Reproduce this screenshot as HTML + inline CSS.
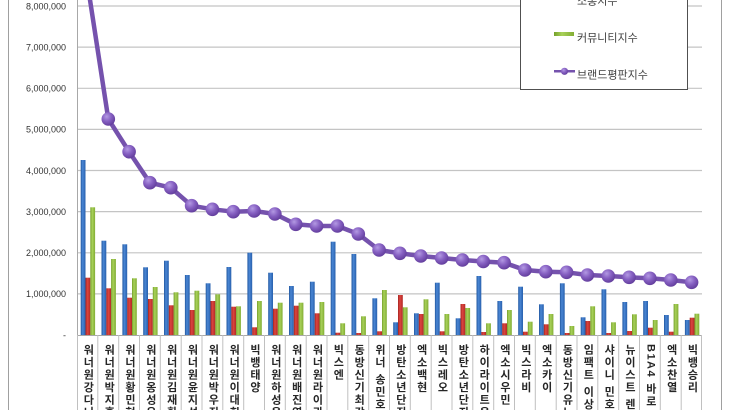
<!DOCTYPE html>
<html><head><meta charset="utf-8">
<style>
html,body{margin:0;padding:0;background:#fff;width:730px;height:410px;overflow:hidden;}
#c{position:relative;width:730px;height:410px;overflow:hidden;background:#fff;font-family:"Liberation Sans","Noto Sans CJK KR",sans-serif;}
svg{position:absolute;left:0;top:0;}
.lb{position:absolute;top:344px;width:20.83px;height:66px;overflow:hidden;line-height:20.83px;writing-mode:vertical-rl;text-orientation:mixed;font-size:11px;letter-spacing:1.5px;font-weight:bold;color:#262626;font-family:"Liberation Sans","Noto Sans CJK KR",sans-serif;white-space:nowrap;}
</style></head><body>
<div id="c">
<svg width="730" height="410" viewBox="0 0 730 410" xmlns="http://www.w3.org/2000/svg">
<defs>
<linearGradient id="gb" x1="0" x2="1" y1="0" y2="0"><stop offset="0" stop-color="#21579f"/><stop offset="0.4" stop-color="#4a86d4"/><stop offset="1" stop-color="#2760ad"/></linearGradient>
<linearGradient id="gr" x1="0" x2="1" y1="0" y2="0"><stop offset="0" stop-color="#a5231f"/><stop offset="0.4" stop-color="#dc4540"/><stop offset="1" stop-color="#b22a25"/></linearGradient>
<linearGradient id="gg" x1="0" x2="1" y1="0" y2="0"><stop offset="0" stop-color="#74a02a"/><stop offset="0.4" stop-color="#a8d159"/><stop offset="1" stop-color="#82ad34"/></linearGradient>
<radialGradient id="gm" cx="0.38" cy="0.32" r="0.7"><stop offset="0" stop-color="#b399e3"/><stop offset="0.5" stop-color="#8660c2"/><stop offset="1" stop-color="#623d9c"/></radialGradient>
</defs>
<line x1="8.5" y1="0" x2="8.5" y2="410" stroke="#a0a0a0" stroke-width="1"/>
<line x1="721.5" y1="0" x2="721.5" y2="410" stroke="#a0a0a0" stroke-width="1"/>
<g stroke="#c4c4c4" stroke-width="1.2">
<line x1="77" y1="6" x2="702" y2="6"/>
<line x1="77" y1="47.1" x2="702" y2="47.1"/>
<line x1="77" y1="88.3" x2="702" y2="88.3"/>
<line x1="77" y1="129.4" x2="702" y2="129.4"/>
<line x1="77" y1="170.5" x2="702" y2="170.5"/>
<line x1="77" y1="211.6" x2="702" y2="211.6"/>
<line x1="77" y1="252.8" x2="702" y2="252.8"/>
<line x1="77" y1="293.9" x2="702" y2="293.9"/>
</g>
<line x1="77.5" y1="0" x2="77.5" y2="335" stroke="#a8a8a8" stroke-width="1"/>
<line x1="77" y1="335.5" x2="702" y2="335.5" stroke="#a8a8a8" stroke-width="1"/>
<g stroke="#c0c0c0" stroke-width="1">
<line x1="77.5" y1="335" x2="77.5" y2="410"/>
<line x1="97.8" y1="335" x2="97.8" y2="410"/>
<line x1="118.7" y1="335" x2="118.7" y2="410"/>
<line x1="139.5" y1="335" x2="139.5" y2="410"/>
<line x1="160.3" y1="335" x2="160.3" y2="410"/>
<line x1="181.2" y1="335" x2="181.2" y2="410"/>
<line x1="202" y1="335" x2="202" y2="410"/>
<line x1="222.8" y1="335" x2="222.8" y2="410"/>
<line x1="243.7" y1="335" x2="243.7" y2="410"/>
<line x1="264.5" y1="335" x2="264.5" y2="410"/>
<line x1="285.3" y1="335" x2="285.3" y2="410"/>
<line x1="306.2" y1="335" x2="306.2" y2="410"/>
<line x1="327" y1="335" x2="327" y2="410"/>
<line x1="347.8" y1="335" x2="347.8" y2="410"/>
<line x1="368.7" y1="335" x2="368.7" y2="410"/>
<line x1="389.5" y1="335" x2="389.5" y2="410"/>
<line x1="410.3" y1="335" x2="410.3" y2="410"/>
<line x1="431.2" y1="335" x2="431.2" y2="410"/>
<line x1="452" y1="335" x2="452" y2="410"/>
<line x1="472.8" y1="335" x2="472.8" y2="410"/>
<line x1="493.7" y1="335" x2="493.7" y2="410"/>
<line x1="514.5" y1="335" x2="514.5" y2="410"/>
<line x1="535.3" y1="335" x2="535.3" y2="410"/>
<line x1="556.2" y1="335" x2="556.2" y2="410"/>
<line x1="577" y1="335" x2="577" y2="410"/>
<line x1="597.8" y1="335" x2="597.8" y2="410"/>
<line x1="618.7" y1="335" x2="618.7" y2="410"/>
<line x1="639.5" y1="335" x2="639.5" y2="410"/>
<line x1="660.3" y1="335" x2="660.3" y2="410"/>
<line x1="681.2" y1="335" x2="681.2" y2="410"/>
<line x1="701.5" y1="335" x2="701.5" y2="410"/>
</g>
<g font-family="Liberation Sans, sans-serif" font-size="9" fill="#333" text-anchor="end">
<text x="66" y="9.3">8,000,000</text>
<text x="66" y="50.4">7,000,000</text>
<text x="66" y="91.5">6,000,000</text>
<text x="66" y="132.7">5,000,000</text>
<text x="66" y="173.8">4,000,000</text>
<text x="66" y="214.9">3,000,000</text>
<text x="66" y="256">2,000,000</text>
<text x="66" y="297.2">1,000,000</text>
<text x="66" y="338.3">-</text>
</g>
<g fill="url(#gb)">
<rect x="80.7" y="160" width="4.8" height="175"/>
<rect x="101.5" y="240.7" width="4.8" height="94.3"/>
<rect x="122.4" y="244.3" width="4.8" height="90.7"/>
<rect x="143.2" y="267.3" width="4.8" height="67.7"/>
<rect x="164.0" y="260.7" width="4.8" height="74.3"/>
<rect x="184.9" y="275" width="4.8" height="60"/>
<rect x="205.7" y="283.3" width="4.8" height="51.7"/>
<rect x="226.5" y="267" width="4.8" height="68"/>
<rect x="247.4" y="252.7" width="4.8" height="82.3"/>
<rect x="268.2" y="272.7" width="4.8" height="62.3"/>
<rect x="289.0" y="286" width="4.8" height="49"/>
<rect x="309.9" y="281.7" width="4.8" height="53.3"/>
<rect x="330.7" y="241.7" width="4.8" height="93.3"/>
<rect x="351.5" y="254" width="4.8" height="81"/>
<rect x="372.4" y="298.3" width="4.8" height="36.7"/>
<rect x="393.2" y="322.3" width="4.8" height="12.7"/>
<rect x="414.0" y="313.3" width="4.8" height="21.7"/>
<rect x="434.9" y="282.7" width="4.8" height="52.3"/>
<rect x="455.7" y="318.3" width="4.8" height="16.7"/>
<rect x="476.5" y="276" width="4.8" height="59"/>
<rect x="497.4" y="301" width="4.8" height="34"/>
<rect x="518.2" y="286.7" width="4.8" height="48.3"/>
<rect x="539.0" y="304.3" width="4.8" height="30.7"/>
<rect x="559.9" y="283.3" width="4.8" height="51.7"/>
<rect x="580.7" y="317.3" width="4.8" height="17.7"/>
<rect x="601.5" y="289.3" width="4.8" height="45.7"/>
<rect x="622.4" y="302" width="4.8" height="33"/>
<rect x="643.2" y="301" width="4.8" height="34"/>
<rect x="664.0" y="315" width="4.8" height="20"/>
<rect x="684.9" y="320" width="4.8" height="15"/>
</g>
<g fill="url(#gr)">
<rect x="85.5" y="277.7" width="4.8" height="57.3"/>
<rect x="106.3" y="288.3" width="4.8" height="46.7"/>
<rect x="127.2" y="297.7" width="4.8" height="37.3"/>
<rect x="148.0" y="299" width="4.8" height="36"/>
<rect x="168.8" y="305.3" width="4.8" height="29.7"/>
<rect x="189.7" y="310" width="4.8" height="25"/>
<rect x="210.5" y="301" width="4.8" height="34"/>
<rect x="231.3" y="306.7" width="4.8" height="28.3"/>
<rect x="252.2" y="327.3" width="4.8" height="7.7"/>
<rect x="273.0" y="308.7" width="4.8" height="26.3"/>
<rect x="293.8" y="305.7" width="4.8" height="29.3"/>
<rect x="314.7" y="313.3" width="4.8" height="21.7"/>
<rect x="335.5" y="332.7" width="4.8" height="2.3"/>
<rect x="356.3" y="333" width="4.8" height="2"/>
<rect x="377.2" y="331.3" width="4.8" height="3.7"/>
<rect x="398.0" y="295" width="4.8" height="40"/>
<rect x="418.8" y="314" width="4.8" height="21"/>
<rect x="439.7" y="331.3" width="4.8" height="3.7"/>
<rect x="460.5" y="304" width="4.8" height="31"/>
<rect x="481.3" y="332" width="4.8" height="3"/>
<rect x="502.2" y="323.3" width="4.8" height="11.7"/>
<rect x="523.0" y="331.7" width="4.8" height="3.3"/>
<rect x="543.8" y="324.3" width="4.8" height="10.7"/>
<rect x="564.7" y="333" width="4.8" height="2"/>
<rect x="585.5" y="321" width="4.8" height="14"/>
<rect x="606.3" y="333" width="4.8" height="2"/>
<rect x="627.2" y="331" width="4.8" height="4"/>
<rect x="648.0" y="327.7" width="4.8" height="7.3"/>
<rect x="668.8" y="331.7" width="4.8" height="3.3"/>
<rect x="689.7" y="317.7" width="4.8" height="17.3"/>
</g>
<g fill="url(#gg)">
<rect x="90.3" y="207.3" width="4.8" height="127.7"/>
<rect x="111.1" y="259" width="4.8" height="76"/>
<rect x="132.0" y="278.3" width="4.8" height="56.7"/>
<rect x="152.8" y="287" width="4.8" height="48"/>
<rect x="173.6" y="292.3" width="4.8" height="42.7"/>
<rect x="194.5" y="290.7" width="4.8" height="44.3"/>
<rect x="215.3" y="294.3" width="4.8" height="40.7"/>
<rect x="236.1" y="306.3" width="4.8" height="28.7"/>
<rect x="257.0" y="301" width="4.8" height="34"/>
<rect x="277.8" y="302.7" width="4.8" height="32.3"/>
<rect x="298.6" y="302.7" width="4.8" height="32.3"/>
<rect x="319.5" y="302" width="4.8" height="33"/>
<rect x="340.3" y="323.3" width="4.8" height="11.7"/>
<rect x="361.1" y="316.3" width="4.8" height="18.7"/>
<rect x="382.0" y="290" width="4.8" height="45"/>
<rect x="402.8" y="307.3" width="4.8" height="27.7"/>
<rect x="423.6" y="299.3" width="4.8" height="35.7"/>
<rect x="444.5" y="314" width="4.8" height="21"/>
<rect x="465.3" y="308" width="4.8" height="27"/>
<rect x="486.1" y="323.3" width="4.8" height="11.7"/>
<rect x="507.0" y="310" width="4.8" height="25"/>
<rect x="527.8" y="321.7" width="4.8" height="13.3"/>
<rect x="548.6" y="314" width="4.8" height="21"/>
<rect x="569.5" y="326" width="4.8" height="9"/>
<rect x="590.3" y="306.3" width="4.8" height="28.7"/>
<rect x="611.1" y="322.3" width="4.8" height="12.7"/>
<rect x="632.0" y="314.3" width="4.8" height="20.7"/>
<rect x="652.8" y="320" width="4.8" height="15"/>
<rect x="673.6" y="304" width="4.8" height="31"/>
<rect x="694.5" y="313.7" width="4.8" height="21.3"/>
</g>
<polyline fill="none" stroke="#7552ad" stroke-width="4.5" stroke-linejoin="round" points="87.4,-17 108.3,119 129.1,151.7 149.9,182.7 170.8,187.7 191.6,205.7 212.4,209.3 233.3,211.7 254.1,211 274.9,214 295.8,224.3 316.6,226 337.4,226 358.3,234 379.1,250 399.9,253.3 420.8,256 441.6,258 462.4,260 483.3,261.5 504.1,262.7 524.9,270 545.8,271.7 566.6,272.3 587.4,275 608.3,276 629.1,277.3 649.9,278.3 670.8,280 691.6,282.3"/>
<g fill="url(#gm)">
<circle cx="87.4" cy="-17" r="6.8"/>
<circle cx="108.3" cy="119" r="6.8"/>
<circle cx="129.1" cy="151.7" r="6.8"/>
<circle cx="149.9" cy="182.7" r="6.8"/>
<circle cx="170.8" cy="187.7" r="6.8"/>
<circle cx="191.6" cy="205.7" r="6.8"/>
<circle cx="212.4" cy="209.3" r="6.8"/>
<circle cx="233.3" cy="211.7" r="6.8"/>
<circle cx="254.1" cy="211" r="6.8"/>
<circle cx="274.9" cy="214" r="6.8"/>
<circle cx="295.8" cy="224.3" r="6.8"/>
<circle cx="316.6" cy="226" r="6.8"/>
<circle cx="337.4" cy="226" r="6.8"/>
<circle cx="358.3" cy="234" r="6.8"/>
<circle cx="379.1" cy="250" r="6.8"/>
<circle cx="399.9" cy="253.3" r="6.8"/>
<circle cx="420.8" cy="256" r="6.8"/>
<circle cx="441.6" cy="258" r="6.8"/>
<circle cx="462.4" cy="260" r="6.8"/>
<circle cx="483.3" cy="261.5" r="6.8"/>
<circle cx="504.1" cy="262.7" r="6.8"/>
<circle cx="524.9" cy="270" r="6.8"/>
<circle cx="545.8" cy="271.7" r="6.8"/>
<circle cx="566.6" cy="272.3" r="6.8"/>
<circle cx="587.4" cy="275" r="6.8"/>
<circle cx="608.3" cy="276" r="6.8"/>
<circle cx="629.1" cy="277.3" r="6.8"/>
<circle cx="649.9" cy="278.3" r="6.8"/>
<circle cx="670.8" cy="280" r="6.8"/>
<circle cx="691.6" cy="282.3" r="6.8"/>
</g>
<rect x="520.5" y="-10" width="167" height="99.5" fill="#fff" stroke="#505050" stroke-width="1"/>
<rect x="554" y="-6" width="20" height="4" fill="url(#gr)"/>
<rect x="554" y="32" width="20" height="4" fill="url(#gg)"/>
<line x1="554" y1="71.3" x2="575" y2="71.3" stroke="#7552ad" stroke-width="2.5"/>
<circle cx="564.5" cy="71.3" r="3.6" fill="url(#gm)"/>
<g font-family="Liberation Sans, Noto Sans CJK KR, sans-serif" font-size="11" fill="#404040">
<text x="577" y="4.5">소통지수</text>
<text x="577" y="41.5">커뮤니티지수</text>
<text x="577" y="78.5">브랜드평판지수</text>
</g>
</svg>
<div class="lb" style="left:77px">워너원강다니엘</div>
<div class="lb" style="left:97.83px">워너원박지훈</div>
<div class="lb" style="left:118.67px">워너원황민현</div>
<div class="lb" style="left:139.5px">워너원옹성우</div>
<div class="lb" style="left:160.33px">워너원김재환</div>
<div class="lb" style="left:181.17px">워너원윤지성</div>
<div class="lb" style="left:202px">워너원박우진</div>
<div class="lb" style="left:222.83px">워너원이대휘</div>
<div class="lb" style="left:243.67px">빅뱅태양</div>
<div class="lb" style="left:264.5px">워너원하성운</div>
<div class="lb" style="left:285.33px">워너원배진영</div>
<div class="lb" style="left:306.17px">워너원라이관린</div>
<div class="lb" style="left:327px">빅스엔</div>
<div class="lb" style="left:347.83px">동방신기최강창민</div>
<div class="lb" style="left:368.67px">위너 송민호</div>
<div class="lb" style="left:389.5px">방탄소년단진</div>
<div class="lb" style="left:410.33px">엑소백현</div>
<div class="lb" style="left:431.17px">빅스레오</div>
<div class="lb" style="left:452px">방탄소년단지민</div>
<div class="lb" style="left:472.83px">하이라이트윤두준</div>
<div class="lb" style="left:493.67px">엑소시우민</div>
<div class="lb" style="left:514.5px">빅스라비</div>
<div class="lb" style="left:535.33px">엑소카이</div>
<div class="lb" style="left:556.17px">동방신기유노윤호</div>
<div class="lb" style="left:577px">임팩트 이상</div>
<div class="lb" style="left:597.83px">샤이니 민호</div>
<div class="lb" style="left:618.67px">뉴이스트 렌</div>
<div class="lb" style="left:639.5px">B1A4 바로</div>
<div class="lb" style="left:660.33px">엑소찬열</div>
<div class="lb" style="left:681.17px">빅뱅승리</div>
</div>
</body></html>
